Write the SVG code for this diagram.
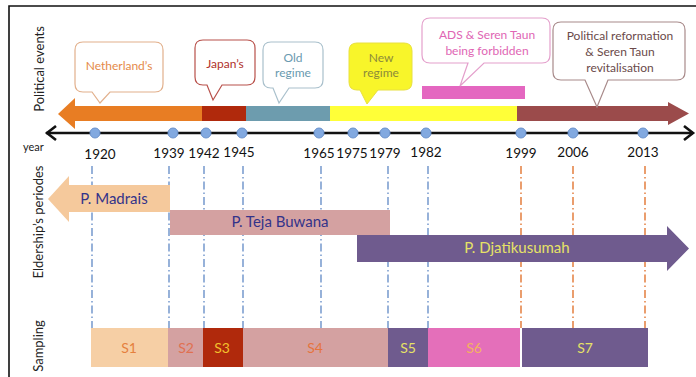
<svg xmlns="http://www.w3.org/2000/svg" width="696" height="377" viewBox="0 0 696 377">
<defs>
<style>
text{font-family:Lato,"Open Sans","Liberation Sans",sans-serif;}
.lbl{font-size:13px;fill:#222;}
.yr{font-size:13.5px;fill:#111;text-anchor:middle;}
.co{font-size:12px;text-anchor:middle;}
.vb{fill:none;stroke:#7d9fd0;stroke-width:1.6;stroke-dasharray:8 3 1.5 3;}
.vo{fill:none;stroke:#e5864a;stroke-width:1.6;stroke-dasharray:8 3 1.5 3;}
.dot{fill:#82a9e0;stroke:#6b92cc;stroke-width:1;}
.sl{font-size:14px;text-anchor:middle;}
.pn{font-size:15px;text-anchor:middle;}
</style>
</defs>
<rect x="0" y="0" width="696" height="377" fill="#fff"/>
<path d="M9,377 V6 H696" fill="none" stroke="#111" stroke-width="1.6"/>

<!-- side labels -->
<text class="lbl" transform="translate(44,69) rotate(-90)" text-anchor="middle">Political events</text>
<text class="lbl" transform="translate(43,222) rotate(-90)" text-anchor="middle">Eldership’s periodes</text>
<text class="lbl" transform="translate(43,346) rotate(-90)" text-anchor="middle">Sampling</text>
<text x="23" y="151" style="font-size:11px;fill:#222;">year</text>

<!-- connectors: vertical guide lines -->
<g id="connectors">
<line class="vb" x1="92" y1="166" x2="92" y2="328"/>
<line class="vb" x1="169" y1="166" x2="169" y2="328"/>
<line class="vb" x1="204" y1="166" x2="204" y2="328"/>
<line class="vb" x1="243" y1="166" x2="243" y2="328"/>
<line class="vb" x1="321" y1="166" x2="321" y2="328"/>
<line class="vb" x1="388" y1="166" x2="388" y2="328"/>
<line class="vb" x1="428" y1="166" x2="428" y2="328"/>
<line class="vo" x1="521" y1="166" x2="521" y2="328"/>
<line class="vo" x1="573" y1="166" x2="573" y2="328"/>
<line class="vo" x1="645" y1="166" x2="645" y2="328"/>
</g>

<!-- political band -->
<g id="political-band">
<path d="M58,114 L75,98 V106 H202 V121 H75 V129 Z" fill="#e87d23"/>
<rect x="202" y="106" width="44" height="15" fill="#b0290c"/>
<rect x="246" y="106" width="84" height="15" fill="#6d9cae"/>
<rect x="330" y="106" width="187" height="15" fill="#ffff38"/>
<path d="M517,106 H668 V102 L689,113.5 L668,125 V121 H517 Z" fill="#9b4b4b"/>
<rect id="ads-bar" x="422" y="86" width="103" height="13" fill="#e467c0"/>
</g>

<!-- callouts -->
<g id="netherlands">
<path d="M83,42 H155 Q163,42 163,50 V84 Q163,92 155,92 H110 L100,103 L92,92 H83 Q75,92 75,84 V50 Q75,42 83,42 Z" fill="#fff" stroke="#e2b08c" stroke-width="1.2"/>
<text class="co" x="119" y="70" fill="#e58a4a">Netherland’s</text>
</g>
<g id="japans">
<path d="M203,40 H247 Q255,40 255,48 V77 Q255,85 247,85 H222 L213,100 L207,85 H203 Q195,85 195,77 V48 Q195,40 203,40 Z" fill="#fff" stroke="#b8504a" stroke-width="1.2"/>
<text class="co" x="225" y="68" fill="#b0302a">Japan’s</text>
</g>
<g id="old-regime">
<path d="M271,42 H315 Q323,42 323,50 V80 Q323,88 315,88 H289 L279,103 L273,88 H271 Q263,88 263,80 V50 Q263,42 271,42 Z" fill="#fff" stroke="#a9c0cc" stroke-width="1.2"/>
<text class="co" x="293" y="62" fill="#6a9ab0">Old</text>
<text class="co" x="293" y="77" fill="#6a9ab0">regime</text>
</g>
<g id="new-regime">
<path d="M357,43 H404 Q412,43 412,51 V82 Q412,90 404,90 H378 L367,104 L360,90 H357 Q349,90 349,82 V51 Q349,43 357,43 Z" fill="#f8f52a" stroke="#e8e040" stroke-width="1"/>
<text class="co" x="381" y="62" fill="#8c8a3a">New</text>
<text class="co" x="381" y="77" fill="#8c8a3a">regime</text>
</g>
<g id="ads-forbidden">
<path d="M430,18 H542 Q550,18 550,26 V55 Q550,63 542,63 H484 L460,86 L468,63 H430 Q422,63 422,55 V26 Q422,18 430,18 Z" fill="#fff" stroke="#e4a0cc" stroke-width="1.2"/>
<text class="co" x="487" y="39" fill="#e066b4">ADS &amp; Seren Taun</text>
<text class="co" x="487" y="55" fill="#e066b4">being forbidden</text>
</g>
<g id="political-reformation">
<path d="M561,22 H677 Q685,22 685,30 V72 Q685,80 677,80 H608 L597,107 L585,80 H561 Q553,80 553,72 V30 Q553,22 561,22 Z" fill="#fff" stroke="#a88a8a" stroke-width="1.2"/>
<text class="co" x="620" y="40" fill="#6b4a4a">Political reformation</text>
<text class="co" x="620" y="56" fill="#6b4a4a">&amp; Seren Taun</text>
<text class="co" x="620" y="72" fill="#6b4a4a">revitalisation</text>
</g>

<!-- time axis -->
<g id="time-axis">
<line x1="46" y1="133" x2="693" y2="133" stroke="#111" stroke-width="2.6"/>
<path d="M56,126 L47,133 L56,140" fill="none" stroke="#111" stroke-width="2.6"/>
<path d="M684,126 L693,133 L684,140" fill="none" stroke="#111" stroke-width="2.6"/>
<circle class="dot" cx="95" cy="133" r="5"/>
<circle class="dot" cx="173" cy="133" r="5"/>
<circle class="dot" cx="206" cy="133" r="5"/>
<circle class="dot" cx="242" cy="133" r="5"/>
<circle class="dot" cx="319" cy="133" r="5"/>
<circle class="dot" cx="353" cy="133" r="5"/>
<circle class="dot" cx="385" cy="133" r="5"/>
<circle class="dot" cx="426" cy="133" r="5"/>
<circle class="dot" cx="521" cy="133" r="5"/>
<circle class="dot" cx="573" cy="133" r="5"/>
<circle class="dot" cx="643" cy="133" r="5"/>
<text class="yr" x="100" y="159">1920</text>
<text class="yr" x="169" y="158">1939</text>
<text class="yr" x="204" y="158">1942</text>
<text class="yr" x="239" y="157">1945</text>
<text class="yr" x="319" y="158">1965</text>
<text class="yr" x="352" y="158">1975</text>
<text class="yr" x="385" y="158">1979</text>
<text class="yr" x="426" y="157">1982</text>
<text class="yr" x="521" y="158">1999</text>
<text class="yr" x="573" y="157">2006</text>
<text class="yr" x="643" y="157">2013</text>
</g>

<!-- eldership periods -->
<g id="p-madrais">
<path d="M48,199 L69,176 V185 H170 V212 H69 V222 Z" fill="#f5c99c"/>
<text class="pn" x="114" y="204" fill="#33338a">P. Madrais</text>
</g>
<g id="p-teja-buwana">
<rect x="170" y="210" width="220" height="25" fill="#d4a1a1"/>
<text class="pn" x="280" y="227" fill="#33338a">P. Teja Buwana</text>
</g>
<g id="p-djatikusumah">
<path d="M357,235 H667 V226 L689,248.5 L667,271 V262 H357 Z" fill="#6f5b8e"/>
<text class="pn" x="517" y="253" fill="#e6e266">P. Djatikusumah</text>
</g>

<!-- sampling -->
<g id="s1"><rect x="91" y="328" width="77" height="39" fill="#f6cfa5"/><text class="sl" x="129" y="353" fill="#e5803e">S1</text></g>
<g id="s2"><rect x="168" y="328" width="35" height="39" fill="#d4a1a1"/><text class="sl" x="186" y="353" fill="#e07050">S2</text></g>
<g id="s3"><rect x="203" y="328" width="40" height="39" fill="#b0290c"/><text class="sl" x="222" y="353" fill="#f2c02c">S3</text></g>
<g id="s4"><rect x="243" y="328" width="145" height="39" fill="#d4a1a1"/><text class="sl" x="315" y="353" fill="#e5743e">S4</text></g>
<g id="s5"><rect x="388" y="328" width="40" height="39" fill="#6f5b8e"/><text class="sl" x="408" y="353" fill="#e6e266">S5</text></g>
<g id="s6"><rect x="428" y="328" width="92" height="39" fill="#e46fba"/><text class="sl" x="474" y="353" fill="#f3b25e">S6</text></g>
<g id="s7"><rect x="522" y="328" width="126" height="39" fill="#6f5b8e"/><text class="sl" x="585" y="353" fill="#e6e266">S7</text></g>
</svg>
